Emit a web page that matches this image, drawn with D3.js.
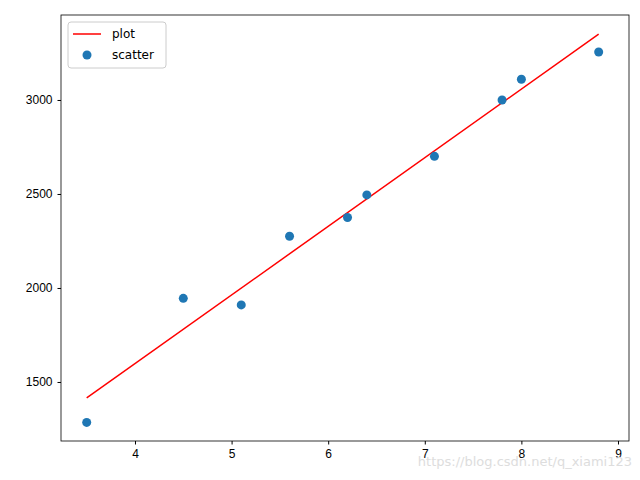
<!DOCTYPE html>
<html><head><meta charset="utf-8">
<script src="https://cdn.jsdelivr.net/npm/d3@7"></script>
<style>body{margin:0;background:#fff}svg{font-family:"DejaVu Sans",sans-serif}</style>
</head><body><svg id="c" width="640" height="480"></svg>
<script>
const scatterX=[3.5,4.5,5.1,5.6,6.2,6.4,7.1,7.8,8.0,8.8];
const scatterY=[1285,1945,1910,2275,2375,2495,2700,3000,3110,3255];
const lineX=[3.5,8.8];
const lineY=[1415,3350];
const xTicks=[4,5,6,7,8,9];
const yTicks=[1500,2000,2500,3000];
const svg=d3.select("#c");
const L=61,R=629,T=15,B=441;
const x=d3.scaleLinear().domain([3.234,9.114]).range([L,R]);
const y=d3.scaleLinear().domain([1186,3452]).range([B,T]);
svg.append("g").attr("transform",`translate(0,${B})`).call(d3.axisBottom(x).tickValues(xTicks).tickSize(3.5).tickPadding(5).tickFormat(d3.format("d")))
 .call(g=>{g.select(".domain").remove();g.selectAll("text").attr("font-size",12).attr("fill","#000");});
svg.append("g").attr("transform",`translate(${L},0)`).call(d3.axisLeft(y).tickValues(yTicks).tickSize(3.5).tickPadding(5).tickFormat(d3.format("d")))
 .call(g=>{g.select(".domain").remove();g.selectAll("text").attr("font-size",12).attr("fill","#000");});
svg.append("path").datum(lineX.map((v,i)=>[v,lineY[i]])).attr("fill","none").attr("stroke","red").attr("stroke-width",1.5)
 .attr("d",d3.line().x(d=>x(d[0])).y(d=>y(d[1])));
svg.selectAll("circle.p").data(scatterX).enter().append("circle").attr("cx",d=>x(d)).attr("cy",(d,i)=>y(scatterY[i])).attr("r",4.5).attr("fill","#1f77b4");
svg.append("rect").attr("x",L).attr("y",T).attr("width",R-L).attr("height",B-T).attr("fill","none").attr("stroke","#000").attr("stroke-width",0.8);
const lg=svg.append("g");
lg.append("rect").attr("x",68).attr("y",22).attr("width",98).attr("height",46).attr("rx",3).attr("fill","#fff").attr("stroke","#ccc");
lg.append("line").attr("x1",73).attr("x2",101).attr("y1",34).attr("y2",34).attr("stroke","red").attr("stroke-width",1.5);
lg.append("circle").attr("cx",87).attr("cy",55).attr("r",4.5).attr("fill","#1f77b4");
lg.append("text").attr("x",112).attr("y",38).attr("font-size",12).text("plot");
lg.append("text").attr("x",112).attr("y",59).attr("font-size",12).text("scatter");
svg.append("text").attr("x",632).attr("y",466).attr("text-anchor","end").attr("font-size",13).attr("fill","#ddd").text("https://blog.csdn.net/q_xiami123");
</script></body></html>
